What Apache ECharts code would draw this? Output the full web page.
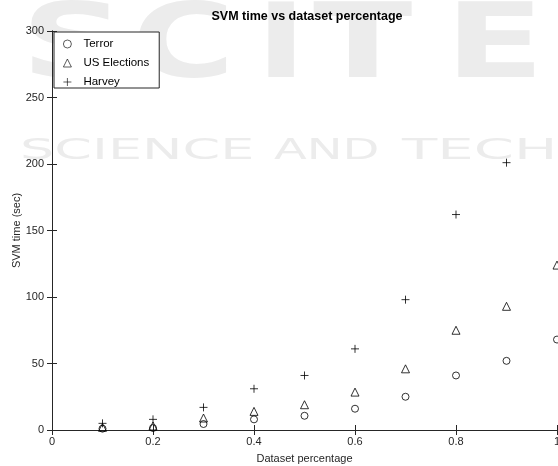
<!DOCTYPE html>
<html>
<head>
<meta charset="utf-8">
<script src="https://cdn.jsdelivr.net/npm/echarts@6/dist/echarts.min.js"></script>
<style>
  html, body { margin: 0; padding: 0; background: #fff; }
  #main { width: 558px; height: 466px; }
</style>
</head>
<body>
<div id="main"></div>
<script>
// dataset fraction on x
var percentages = [0.1, 0.2, 0.3, 0.4, 0.5, 0.6, 0.7, 0.8, 0.9, 1.0]
// svm time in seconds
var terror = [1, 1.5, 4.5, 8, 10.7, 16, 25, 41, 52, 68]
var usElections = [2, 3, 9, 14, 19, 28.5, 46, 75, 93, 124]
var harvey = [5, 8, 17, 31, 41, 61, 98, 162, 201, null]

function pairs(xs, ys) {
  var out = []
  for (var i = 0; i < xs.length; i++) {
    if (ys[i] != null) out.push([xs[i], ys[i]])
  }
  return out
}

var axisText = { color: '#262626', fontSize: 11, fontFamily: 'Liberation Sans' }
var lineStyle = { color: '#262626', width: 1 }
var plusPath = 'path://M0,5L10,5M5,0L5,10'
var markStyle = { color: 'transparent', borderColor: '#000', borderWidth: 1 }

// faint publisher watermark behind the plot
function mark(text, x, y, size, bold, sx) {
  return {
    type: 'text', left: x, top: y, z: -10, silent: true, scaleX: sx,
    style: { text: text, fontSize: size, fontWeight: bold ? 'bold' : 'normal', fontFamily: 'DejaVu Sans', fill: '#ececec' }
  }
}
var watermark = [
  mark('S', 21, -2, 104, true, 1.4), mark('C', 132, -2, 104, true, 1.35),
  mark('I', 256, -2, 104, true, 1.3), mark('T', 313, -2, 104, true, 1.4),
  mark('E', 445, -2, 104, true, 1.4),
  mark('SCIENCE', 20, 138, 28, false, 1.93), mark('AND', 274, 138, 28, false, 1.71),
  mark('TECHNOLOGY', 402, 138, 28, false, 2.06)
]

var myChart = echarts.init(document.getElementById('main'))
var option = {
  backgroundColor: '#fff',
  animation: false,
  graphic: watermark,
  title: {
    text: 'SVM time vs dataset percentage',
    left: 302, top: 5, textAlign: 'center',
    textStyle: { fontSize: 12.5, fontWeight: 'bold', color: '#000', fontFamily: 'Liberation Sans' }
  },
  legend: {
    left: 54, top: 32, orient: 'vertical',
    itemWidth: 8, itemHeight: 8, itemGap: 7,
    padding: [6, 10, 0, 9],
    borderColor: '#262626', borderWidth: 1, backgroundColor: '#fff',
    itemStyle: { borderWidth: 0.8 },
    textStyle: { color: '#000', fontSize: 11.5, fontFamily: 'Liberation Sans', padding: [0, 0, 0, 7] },
    data: ['Terror', 'US Elections', 'Harvey']
  },
  grid: { left: 52, right: 1, top: 31, bottom: 36, outerBoundsMode: 'none' },
  xAxis: [
    {
      type: 'value', min: 0, max: 1, interval: 0.2,
      name: 'Dataset percentage', nameLocation: 'middle', nameGap: 23,
      nameMoveOverlap: false,
      nameTextStyle: axisText,
      axisLine: { lineStyle: lineStyle },
      axisTick: { inside: true, length: 5, lineStyle: lineStyle },
      axisLabel: Object.assign({ margin: 6 }, axisText, {
        formatter: function (v) { return v === 1 ? '1' : String(v) }
      }),
      splitLine: { show: false }
    },
    {
      type: 'value', min: 0, max: 1, interval: 0.2, position: 'top',
      axisLine: { show: true, lineStyle: lineStyle },
      axisTick: { inside: true, length: 5, lineStyle: lineStyle },
      axisLabel: { show: false }, splitLine: { show: false }
    }
  ],
  yAxis: [
    {
      type: 'value', min: 0, max: 300, interval: 50,
      name: 'SVM time (sec)', nameLocation: 'middle', nameGap: 30,
      nameMoveOverlap: false,
      nameTextStyle: axisText,
      axisLine: { show: true, lineStyle: lineStyle },
      axisTick: { show: true, inside: true, length: 5, lineStyle: lineStyle },
      axisLabel: Object.assign({ margin: 8 }, axisText),
      splitLine: { show: false }
    },
    {
      type: 'value', min: 0, max: 300, interval: 50, position: 'right',
      axisLine: { show: true, lineStyle: lineStyle },
      axisTick: { show: true, inside: true, length: 5, lineStyle: lineStyle },
      axisLabel: { show: false }, splitLine: { show: false }
    }
  ],
  series: [
    {
      name: 'Terror', type: 'scatter', symbol: 'circle', symbolSize: 7,
      itemStyle: markStyle,
      data: pairs(percentages, terror)
    },
    {
      name: 'US Elections', type: 'scatter', symbol: 'triangle', symbolSize: 8,
      itemStyle: markStyle,
      data: pairs(percentages, usElections)
    },
    {
      name: 'Harvey', type: 'scatter', symbol: plusPath, symbolSize: 8,
      itemStyle: markStyle,
      data: pairs(percentages, harvey)
    }
  ]
}
myChart.setOption(option)
window.addEventListener('resize', () => { myChart.resize() })
</script>
</body>
</html>
